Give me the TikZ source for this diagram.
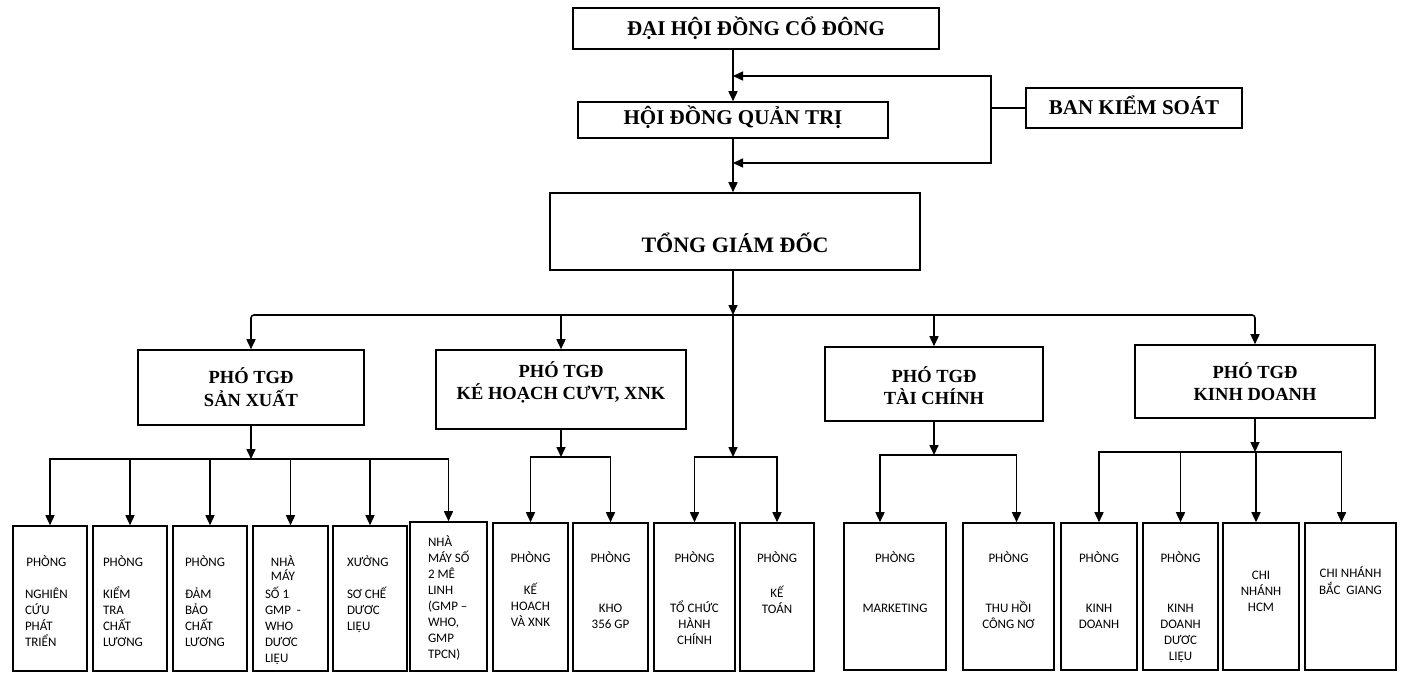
\documentclass[tikz,border=0pt]{standalone}
\usepackage{fontspec}
\setmainfont{Liberation Serif}
\newfontfamily\smf{Carlito}
\usetikzlibrary{arrows.meta}
\newcommand\blkL[3]{\raisebox{#1}[0pt][0pt]{\makebox[0pt][l]{\hspace*{#2}\begin{tabular}[t]{@{}l@{}}#3\end{tabular}}}}
\newcommand\blkC[2]{\raisebox{#1}[0pt][0pt]{\begin{tabular}[t]{@{}c@{}}#2\end{tabular}}}
\newcommand\ctr[1]{\multicolumn{1}{@{}c@{}}{#1}}
\tikzset{
  bx/.style={draw, line width=1.6pt, inner sep=0pt},
  bigbox/.style={bx, font={\bfseries\fontsize{21}{25}\selectfont}},
  midbox/.style={bx, font={\bfseries\fontsize{18.5}{22}\selectfont}},
  smbox/.style={bx, font={\smf\fontsize{13}{16}\selectfont}},
  arr/.style={-{Triangle[length=10pt,width=9pt]}, line width=1.6pt},
  ln/.style={line width=1.6pt}
}
\begin{document}
\begin{tikzpicture}[x=1pt,y=-1pt]
\fill[white] (0,0) rectangle (1418,674);
\useasboundingbox (0,0) rectangle (1418,674);
% top
\node[bigbox, minimum width=366pt, minimum height=41pt] (dh) at (756,28.5) {\raisebox{-7pt}[0pt][0pt]{ĐẠI HỘI ĐỒNG CỔ ĐÔNG}};
\node[bigbox, minimum width=310pt, minimum height=36pt] (hd) at (733,120) {\raisebox{-5pt}[0pt][0pt]{HỘI ĐỒNG QUẢN TRỊ}};
\node[bigbox, minimum width=216pt, minimum height=40pt] (bks) at (1134,108) {\raisebox{-6pt}[0pt][0pt]{BAN KIỂM SOÁT}};
\node[bigbox, minimum width=370pt, minimum height=77pt, font={\bfseries\fontsize{22}{26}\selectfont}] (tgd) at (735,231.5) {\raisebox{-20.5pt}[0pt][0pt]{TỔNG GIÁM ĐỐC}};
% deputies
\node[midbox, minimum width=226pt, minimum height=75pt] (sx) at (251,387.5) {\blkC{4.5pt}{PHÓ TGĐ\\SẢN XUẤT}};
\node[midbox, minimum width=250pt, minimum height=79pt] (kh) at (561,389.5) {\blkC{12.5pt}{PHÓ TGĐ\\KÉ HOẠCH CƯVT, XNK}};
\node[midbox, minimum width=218pt, minimum height=74pt] (tc) at (934,384) {\blkC{2pt}{PHÓ TGĐ\\TÀI CHÍNH}};
\node[midbox, minimum width=240pt, minimum height=73pt] (kd) at (1255,381.5) {\blkC{3.5pt}{PHÓ TGĐ\\KINH DOANH}};
% departments
\node[smbox, minimum width=74pt, minimum height=145pt] (b1) at (50,598.5) {\blkL{32.5pt}{-25pt}{\ctr{PHÒNG}\\[16pt] NGHIÊN\\CỨU\\PHÁT\\TRIỂN}};
\node[smbox, minimum width=74pt, minimum height=145pt] (b2) at (130,598.5) {\blkL{32.5pt}{-27pt}{\ctr{PHÒNG}\\[16pt] KIỂM\\TRA\\CHẤT\\LƯƠNG}};
\node[smbox, minimum width=74pt, minimum height=145pt] (b3) at (210,598.5) {\blkL{32.5pt}{-25pt}{\ctr{PHÒNG}\\[16pt] ĐẢM\\BẢO\\CHẤT\\LƯƠNG}};
\node[smbox, minimum width=75pt, minimum height=145pt] (b4) at (290.5,598.5) {\blkL{32.5pt}{-25.5pt}{\ctr{NHÀ}\\[-2pt]\ctr{MÁY}\\[2pt] SỐ 1\\GMP \ -\\WHO\\DƯƠC\\LIỆU}};
\node[smbox, minimum width=74pt, minimum height=145pt] (b5) at (370,598.5) {\blkL{32.5pt}{-23pt}{\ctr{XƯỞNG}\\[16pt] SƠ CHẾ\\DƯƠC\\LIỆU}};
\node[smbox, minimum width=77pt, minimum height=149pt] (b6) at (448.5,596.5) {\blkL{50.5pt}{-20.5pt}{NHÀ\\MÁY SỐ\\2 MÊ\\LINH\\(GMP –\\WHO,\\GMP\\TPCN)}};
\node[smbox, minimum width=75pt, minimum height=148pt] (b7) at (530.5,597) {\blkC{35pt}{PHÒNG\\[16pt] KẾ\\HOACH\\VÀ XNK}};
\node[smbox, minimum width=75pt, minimum height=148pt] (b8) at (610.5,597) {\blkC{35pt}{PHÒNG\\[34pt] KHO\\356 GP}};
\node[smbox, minimum width=81pt, minimum height=148pt] (b9) at (694.5,597) {\blkC{35pt}{PHÒNG\\[34pt] TỔ CHỨC\\HÀNH\\CHÍNH}};
\node[smbox, minimum width=74pt, minimum height=148pt] (b10) at (777,597) {\blkC{35pt}{PHÒNG\\[19pt] KẾ\\TOÁN}};
\node[smbox, minimum width=102pt, minimum height=147pt] (b11) at (895,596.5) {\blkC{34.5pt}{PHÒNG\\[34pt] MARKETING}};
\node[smbox, minimum width=91pt, minimum height=147pt] (b12) at (1008.5,596.5) {\blkC{34.5pt}{PHÒNG\\[34pt] THU HỒI\\CÔNG NƠ}};
\node[smbox, minimum width=76pt, minimum height=147pt] (b13) at (1099,596.5) {\blkC{34.5pt}{PHÒNG\\[34pt] KINH\\DOANH}};
\node[smbox, minimum width=75pt, minimum height=147pt] (b14) at (1180.5,596.5) {\blkC{34.5pt}{PHÒNG\\[34pt] KINH\\DOANH\\DƯƠC\\LIỆU}};
\node[smbox, minimum width=76pt, minimum height=147pt] (b15) at (1261,596.5) {\blkC{17.5pt}{CHI\\NHÁNH\\HCM}};
\node[smbox, minimum width=91pt, minimum height=147pt] (b16) at (1350.5,596.5) {\blkC{19.5pt}{CHI NHÁNH\\BẮC\ \ GIANG}};
% coordinates
\coordinate (busM) at (733,315);
\coordinate (lpA) at (991,76);
\coordinate (lpB) at (991,163);
\coordinate (sxbus) at (251,459);
\coordinate (khbus) at (561,457);
\coordinate (mbus) at (733,457);
\coordinate (tcbus) at (934,455);
\coordinate (kdbus) at (1255,452);
% top connectors
\draw[arr] (hd.north |- dh.south) -- (hd.north);
\draw[ln] (bks.west) -- (lpB |- bks.west);
\draw[arr] (lpB |- bks.west) -- (lpA) -- (lpA -| hd.north);
\draw[arr] (lpB |- bks.west) -- (lpB) -- (lpB -| hd.north);
\draw[arr] (hd.south) -- (hd.south |- tgd.north);
\draw[arr] (hd.south |- tgd.south) -- (busM);
% main bus
\draw[arr, rounded corners=3pt] (busM) -| (sx.north);
\draw[arr, rounded corners=3pt] (busM) -| (kd.north);
\draw[arr] (busM -| kh.north) -- (kh.north);
\draw[arr] (busM -| tc.north) -- (tc.north);
\draw[arr] (busM) -- (mbus);
% production
\draw[arr] (sx.south) -- (sxbus);
\foreach \b in {b1,b2,b3,b4,b5,b6} \draw[arr] (sxbus) -| (\b.north);
% planning
\draw[arr] (kh.south) -- (khbus);
\draw[arr] (khbus) -| (b7.north);
\draw[arr] (khbus) -| (b8.north);
% direct
\draw[arr] (mbus) -| (b9.north);
\draw[arr] (mbus) -| (b10.north);
% finance
\draw[arr] (tc.south) -- (tcbus);
\draw[arr] (tcbus) -| ([xshift=-15pt]b11.north);
\draw[arr] (tcbus) -| ([xshift=8pt]b12.north);
% business
\draw[arr] (kd.south) -- (kdbus);
\draw[arr] (kdbus) -| (b13.north);
\draw[arr] (kdbus) -| (b14.north);
\draw[arr] (kdbus) -| ([xshift=-5pt]b15.north);
\draw[arr] (kdbus) -| ([xshift=-9pt]b16.north);
\end{tikzpicture}
\end{document}
